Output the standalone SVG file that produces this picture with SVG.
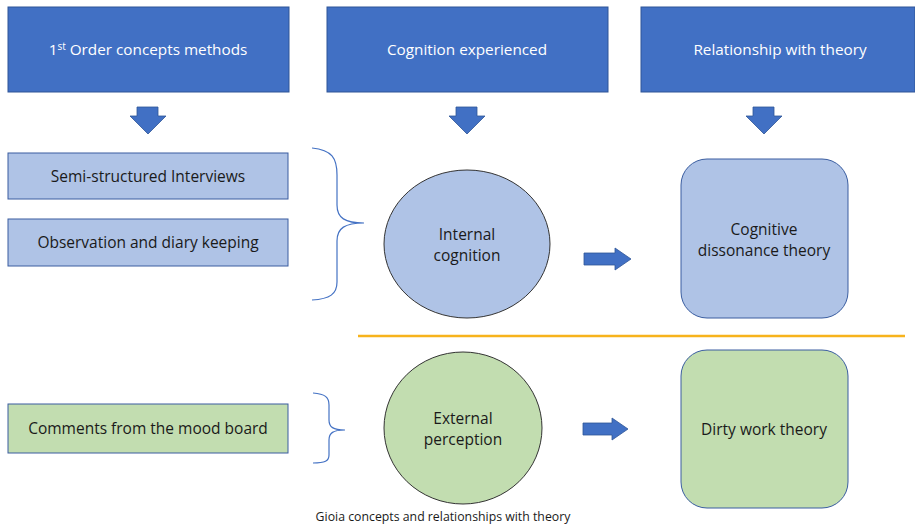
<svg xmlns="http://www.w3.org/2000/svg" width="915" height="526" viewBox="0 0 915 526">
<style>
.hdr{fill:#4170C4;stroke:#2F5597;stroke-width:1}
.ht{font-family:"Open Sans","Liberation Sans",sans-serif;font-size:15.3px;fill:#fff;text-anchor:middle}
.lb{fill:#AFC3E6;stroke:#3A5DA0;stroke-width:1}
.gb{fill:#C2DDB0;stroke:#3A5DA0;stroke-width:1}
.t{font-family:"Open Sans","Liberation Sans",sans-serif;font-size:15.5px;fill:#1a1a1a;text-anchor:middle}
.ell{stroke:#333;stroke-width:1}
.arr{fill:#4170C4;stroke:#2F5597;stroke-width:0.8}
.brace{fill:none;stroke:#4472C4;stroke-width:1.2}
</style>
<rect width="915" height="526" fill="#fff"/>
<g id="h1"><rect class="hdr" x="8" y="7" width="281" height="85"/><text class="ht" x="148" y="55">1<tspan font-size="10" dy="-5">st</tspan><tspan dy="5"> Order concepts methods</tspan></text></g>
<g id="h2"><rect class="hdr" x="327" y="7" width="281" height="85"/><text class="ht" x="467" y="55">Cognition experienced</text></g>
<g id="h3"><rect class="hdr" x="641" y="7" width="274" height="85"/><text class="ht" x="780" y="55">Relationship with theory</text></g>
<g id="n1"><rect class="lb" x="8" y="153" width="280" height="46"/><text class="t" x="148" y="182">Semi-structured Interviews</text></g>
<g id="n2"><rect class="lb" x="8" y="219" width="280" height="47"/><text class="t" x="148" y="248">Observation and diary keeping</text></g>
<g id="n3"><rect class="gb" x="8" y="404" width="280" height="49"/><text class="t" x="148" y="434">Comments from the mood board</text></g>
<g id="e1"><ellipse class="ell" cx="467" cy="244" rx="83" ry="74" fill="#AFC3E6"/><text class="t" x="467" y="240">Internal</text><text class="t" x="467" y="261">cognition</text></g>
<g id="e2"><ellipse class="ell" cx="463" cy="428" rx="79" ry="76" fill="#C2DDB0"/><text class="t" x="463" y="424">External</text><text class="t" x="463" y="445">perception</text></g>
<g id="r1"><rect class="lb" x="681" y="159" width="167" height="159" rx="26"/><text class="t" x="764" y="235">Cognitive</text><text class="t" x="764" y="256">dissonance theory</text></g>
<g id="r2"><rect class="gb" x="681" y="350" width="167" height="158" rx="26"/><text class="t" x="764" y="435">Dirty work theory</text></g>
<g id="connectors">
<path class="arr" d="M137,107 H158 V116 H166 L148,134 L130,116 H137 Z"/>
<path class="arr" d="M456,107 H477 V116 H485 L467,134 L449,116 H456 Z"/>
<path class="arr" d="M753,107 H774 V116 H782 L764,134 L746,116 H753 Z"/>
<path class="arr" d="M584,253 H615 V248 L631,259 L615,270 V265 H584 Z"/>
<path class="arr" d="M583,423 H612 V418 L628,429 L612,440 V435 H583 Z"/>
<path class="brace" d="M312,148 C332,150 337,158 337,175 V205 C337,218 345,223 364,223 C345,223 337,228 337,241 V282 C337,294 330,299 312,300"/>
<path class="brace" d="M313,393 C325,394 329,397 329,405 V420 C329,427 333,430 345,430 C333,430 329,433 329,440 V455 C329,461 325,463 313,463"/>
<line x1="358" y1="336" x2="905" y2="336" stroke="#F7B31C" stroke-width="2.5"/>
</g>
<text x="443" y="521" font-family="'Open Sans','Liberation Sans',sans-serif" font-size="12.3" fill="#1a1a1a" text-anchor="middle">Gioia concepts and relationships with theory</text>
</svg>
